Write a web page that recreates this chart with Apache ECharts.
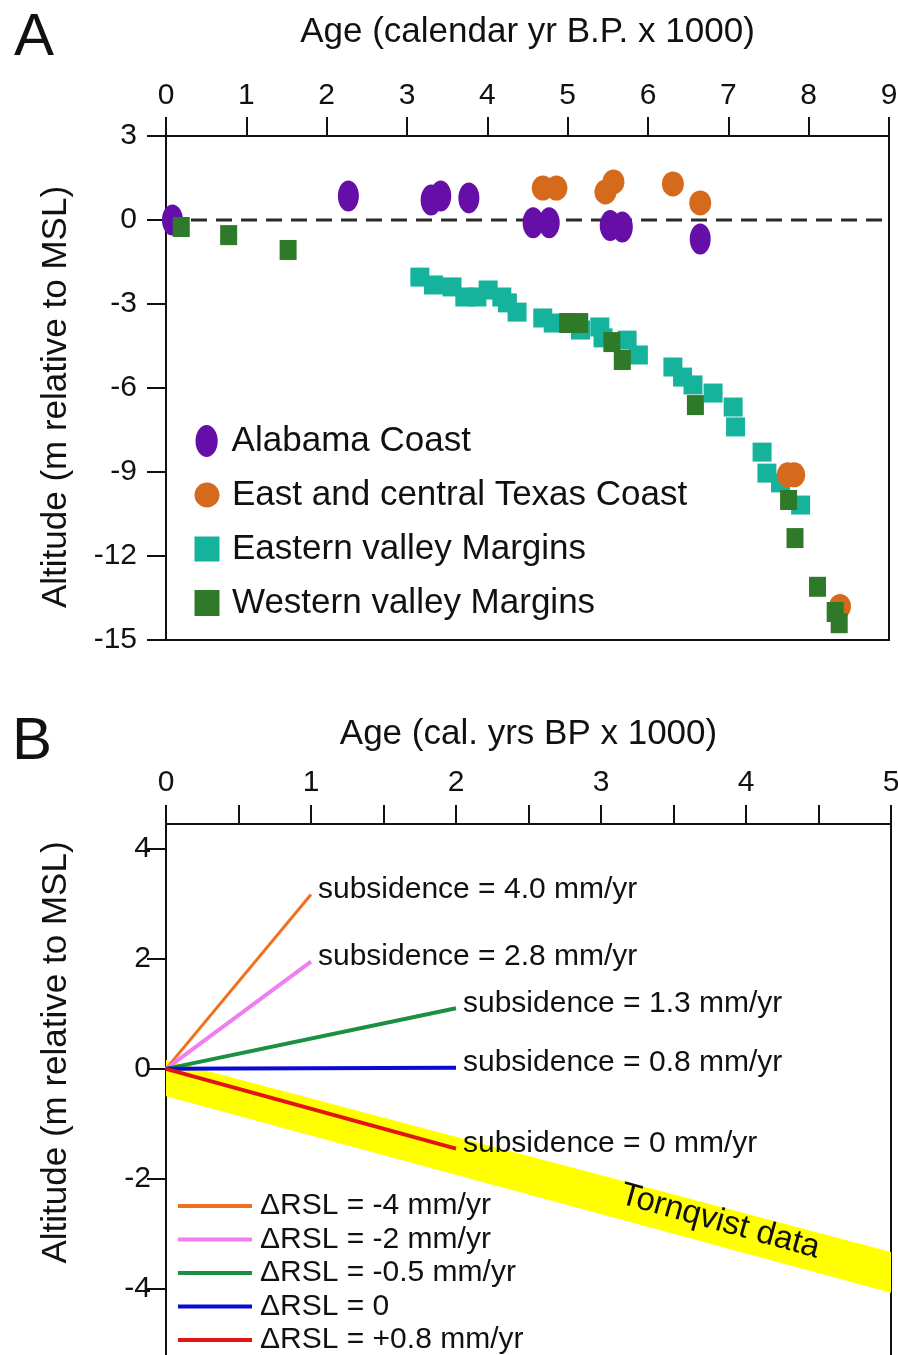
<!DOCTYPE html>
<html><head><meta charset="utf-8">
<script src="https://cdn.jsdelivr.net/npm/echarts@6/dist/echarts.min.js"></script>
<style>html,body{margin:0;padding:0;background:#fff}#c{width:898px;height:1355px}</style>
</head><body><div id="c"></div>
<script>
const FONT = '"Liberation Sans", Arial, Helvetica, sans-serif';

// ---------- Panel A data ----------
const seriesNamesA = ['Alabama Coast', 'East and central Texas Coast', 'Eastern valley Margins', 'Western valley Margins'];
const alabamaAge = [0.08, 2.27, 3.30, 3.42, 3.77, 4.57, 4.77, 5.53, 5.68, 6.65];
const alabamaAlt = [0.0, 0.86, 0.71, 0.86, 0.79, -0.1, -0.1, -0.2, -0.25, -0.68];
const texasAge = [4.69, 4.86, 5.47, 5.57, 6.31, 6.65, 7.74, 7.82, 8.39];
const texasAlt = [1.14, 1.14, 1.0, 1.36, 1.29, 0.61, -9.1, -9.1, -13.8];
const easternAge = [3.16, 3.33, 3.56, 3.72, 3.87, 4.01, 4.18, 4.25, 4.37, 4.69, 4.82, 5.16, 5.40, 5.44, 5.74, 5.88, 6.31, 6.43, 6.56, 6.81, 7.06, 7.09, 7.42, 7.48, 7.65, 7.90];
const easternAlt = [-2.04, -2.32, -2.39, -2.75, -2.75, -2.5, -2.75, -2.96, -3.29, -3.5, -3.68, -3.93, -3.82, -4.21, -4.29, -4.82, -5.25, -5.61, -5.89, -6.18, -6.68, -7.39, -8.29, -9.04, -9.39, -10.18];
const westernAge = [0.19, 0.78, 1.52, 5.0, 5.15, 5.55, 5.68, 6.59, 7.75, 7.83, 8.11, 8.33, 8.38];
const westernAlt = [-0.25, -0.54, -1.07, -3.68, -3.68, -4.36, -5.0, -6.61, -10.0, -11.36, -13.1, -14.0, -14.4];
const zeroLineAge = [0, 9];
const zeroLineAlt = [0, 0];
const xTicksA = [0, 1, 2, 3, 4, 5, 6, 7, 8, 9];
const yTicksA = [-15, -12, -9, -6, -3, 0, 3];

// ---------- Panel B data ----------
const lineNamesB = ['ΔRSL = -4 mm/yr', 'ΔRSL = -2 mm/yr', 'ΔRSL = -0.5 mm/yr', 'ΔRSL = 0', 'ΔRSL = +0.8 mm/yr'];
const subsidenceLabels = ['subsidence = 4.0 mm/yr', 'subsidence = 2.8 mm/yr', 'subsidence = 1.3 mm/yr', 'subsidence = 0.8 mm/yr', 'subsidence = 0 mm/yr'];
const lineStartAge = [0, 0, 0, 0, 0];
const lineStartAlt = [0, 0, 0, 0, 0];
const lineEndAge = [1, 1, 2, 2, 2];
const lineEndAlt = [3.17, 1.95, 1.1, 0.02, -1.45];
const bandAge = [0, 5];
const bandTop = [0.16, -3.33];
const bandBottom = [-0.5, -4.07];
const bandLabel = 'Tornqvist data';
const bandLabelAge = 3.82;
const xTicksB = [0, 1, 2, 3, 4, 5];
const yTicksB = [-4, -2, 0, 2, 4];

const zip = (a, b) => a.map((v, i) => [v, b[i]]);

const colorsA = ['#650fa8', '#d66a1c', '#16b39c', '#2f7a28'];
const colorsB = ['#f07020', '#f07ef0', '#1a9043', '#0a0ad8', '#e41414'];
const widthsB = [3, 4, 4, 4, 4];

const axisLine = { show: true, onZero: false, lineStyle: { color: '#111', width: 2 } };
const axisTick = { show: true, length: 19, lineStyle: { color: '#111', width: 2 } };

const chart = echarts.init(document.getElementById('c'), null, { renderer: 'canvas' });

const legendRowsA = [441, 495, 549, 603];
const legendIcons = ['path://M50,0 A50,72 0 1,1 50,144 A50,72 0 1,1 50,0 Z', 'circle', 'rect', 'rect'];
const legendIconW = [23, 25, 25, 25];
const legendIconH = [32, 25, 25, 26];
const legendsA = seriesNamesA.map((n, i) => ({
  data: [{ name: n, icon: legendIcons[i] }], orient: 'vertical', left: 207 - legendIconW[i] / 2, top: legendRowsA[i] - 20,
  itemWidth: legendIconW[i], itemHeight: legendIconH[i], padding: 0,
  selectedMode: false,
  textStyle: { fontFamily: FONT, fontSize: 35, color: '#111', lineHeight: 40, padding: [0, 0, 0, 232 - (207 + legendIconW[i] / 2) - 5] }
}));

function band(params, api) {
  if (params.dataIndex !== 0) return null;
  const pts = [];
  for (let i = 0; i < bandAge.length; i++) pts.push(api.coord([bandAge[i], bandTop[i]]));
  for (let i = bandAge.length - 1; i >= 0; i--) pts.push(api.coord([bandAge[i], bandBottom[i]]));
  return { type: 'polygon', shape: { points: pts }, style: { fill: '#ffff00' } };
}

const option = {
  animation: false,
  backgroundColor: '#fff',
  textStyle: { fontFamily: FONT },
  grid: [
    { left: 166, top: 136, width: 723, height: 504, show: true, borderColor: '#111', borderWidth: 2, outerBoundsMode: 'none', containLabel: false },
    { left: 166, top: 824, width: 725, height: 575, show: true, borderColor: '#111', borderWidth: 2, outerBoundsMode: 'none', containLabel: false }
  ],
  xAxis: [
    { gridIndex: 0, type: 'value', position: 'top', min: 0, max: 9, interval: 1,
      name: 'Age (calendar yr B.P. x 1000)', nameLocation: 'middle', nameGap: 86,
      nameTextStyle: { fontFamily: FONT, fontSize: 35, color: '#111' },
      axisLine, axisTick, splitLine: { show: false },
      axisLabel: { fontFamily: FONT, fontSize: 30, color: '#111', margin: 25,
        customValues: xTicksA } },
    { gridIndex: 1, type: 'value', position: 'top', min: 0, max: 5, interval: 0.5,
      name: 'Age (cal. yrs BP x 1000)', nameLocation: 'middle', nameGap: 72,
      nameTextStyle: { fontFamily: FONT, fontSize: 35, color: '#111' },
      axisLine, axisTick, splitLine: { show: false },
      axisLabel: { fontFamily: FONT, fontSize: 30, color: '#111', margin: 26,
        customValues: xTicksB } }
  ],
  yAxis: [
    { gridIndex: 0, type: 'value', min: -15, max: 3, interval: 3,
      name: 'Altitude (m relative to MSL)', nameLocation: 'middle', nameGap: 92,
      nameTextStyle: { fontFamily: FONT, fontSize: 35, color: '#111', padding: [0, 18, 0, 0] },
      axisLine, axisTick, splitLine: { show: false },
      axisLabel: { fontFamily: FONT, fontSize: 30, color: '#111', margin: 29, customValues: yTicksA } },
    { gridIndex: 1, type: 'value', min: -6, max: 4.45,
      name: 'Altitude (m relative to MSL)', nameLocation: 'middle', nameGap: 92,
      nameTextStyle: { fontFamily: FONT, fontSize: 35, color: '#111', padding: [0, 0, 0, 118] },
      axisLine, splitLine: { show: false },
      axisTick: Object.assign({}, axisTick, { customValues: yTicksB }),
      axisLabel: { fontFamily: FONT, fontSize: 30, color: '#111', margin: 15, customValues: yTicksB } }
  ],
  legend: legendsA.concat([{
    data: lineNamesB, orient: 'vertical', left: 178, top: 1191, height: 200, padding: 0,
    icon: 'rect', itemWidth: 74, itemHeight: 4, itemGap: 3.5, selectedMode: false,
    textStyle: { fontFamily: FONT, fontSize: 30, color: '#111', lineHeight: 30, padding: [0, 0, 0, 3] }
  }]),
  series: [
    { type: 'line', xAxisIndex: 0, yAxisIndex: 0, data: zip(zeroLineAge, zeroLineAlt), symbol: 'none', silent: true,
      lineStyle: { color: '#2a2a2a', width: 3, type: [16, 9] }, z: 1 },
    { type: 'scatter', name: seriesNamesA[0], xAxisIndex: 0, yAxisIndex: 0, data: zip(alabamaAge, alabamaAlt),
      symbol: 'circle', symbolSize: [21, 31], itemStyle: { color: colorsA[0], opacity: 1 }, z: 2 },
    { type: 'scatter', name: seriesNamesA[2], xAxisIndex: 0, yAxisIndex: 0, data: zip(easternAge, easternAlt),
      symbol: 'rect', symbolSize: [19, 19], itemStyle: { color: colorsA[2], opacity: 1 }, z: 2 },
    { type: 'scatter', name: seriesNamesA[1], xAxisIndex: 0, yAxisIndex: 0, data: zip(texasAge, texasAlt),
      symbol: 'circle', symbolSize: [22, 25], itemStyle: { color: colorsA[1], opacity: 1 }, z: 3 },
    { type: 'scatter', name: seriesNamesA[3], xAxisIndex: 0, yAxisIndex: 0, data: zip(westernAge, westernAlt),
      symbol: 'rect', symbolSize: [17, 20], itemStyle: { color: colorsA[3], opacity: 1 }, z: 4 },
    { type: 'custom', xAxisIndex: 1, yAxisIndex: 1, silent: true, clip: true, z: 1,
      data: bandAge.map((a, i) => [a, bandTop[i], bandBottom[i]]),
      encode: { x: 0, y: [1, 2] },
      renderItem: band }
  ].concat(lineNamesB.map((n, i) => ({
    type: 'line', name: n, xAxisIndex: 1, yAxisIndex: 1,
    data: [[lineStartAge[i], lineStartAlt[i]], [lineEndAge[i], lineEndAlt[i]]],
    symbol: 'none', z: 3,
    itemStyle: { color: colorsB[i] },
    lineStyle: { color: colorsB[i], width: widthsB[i] },
    endLabel: { show: true, formatter: subsidenceLabels[i], distance: 7, offset: [0, -5],
      fontFamily: FONT, fontSize: 30, color: '#111' }
  })))
};
chart.setOption(option);

// "Tornqvist data" label placed along the band through the library's coordinate conversion
const frac = bandLabelAge / bandAge[1];
const midAlt = ((bandTop[0] + (bandTop[1] - bandTop[0]) * frac) + (bandBottom[0] + (bandBottom[1] - bandBottom[0]) * frac)) / 2;
const p = chart.convertToPixel({ gridIndex: 1 }, [bandLabelAge, midAlt]);
chart.setOption({ graphic: [
  { type: 'text', x: 14, y: 38, style: { text: 'A', font: '60px ' + FONT, fill: '#111', textVerticalAlign: 'middle' } },
  { type: 'text', x: 12, y: 742, style: { text: 'B', font: '60px ' + FONT, fill: '#111', textVerticalAlign: 'middle' } },
  { type: 'text', x: p[0], y: p[1] - 5, rotation: -15.5 * Math.PI / 180, z: 10,
    style: { text: bandLabel, font: '33px ' + FONT, fill: '#111', textAlign: 'center', textVerticalAlign: 'middle' } }
] });
</script>
</body></html>
